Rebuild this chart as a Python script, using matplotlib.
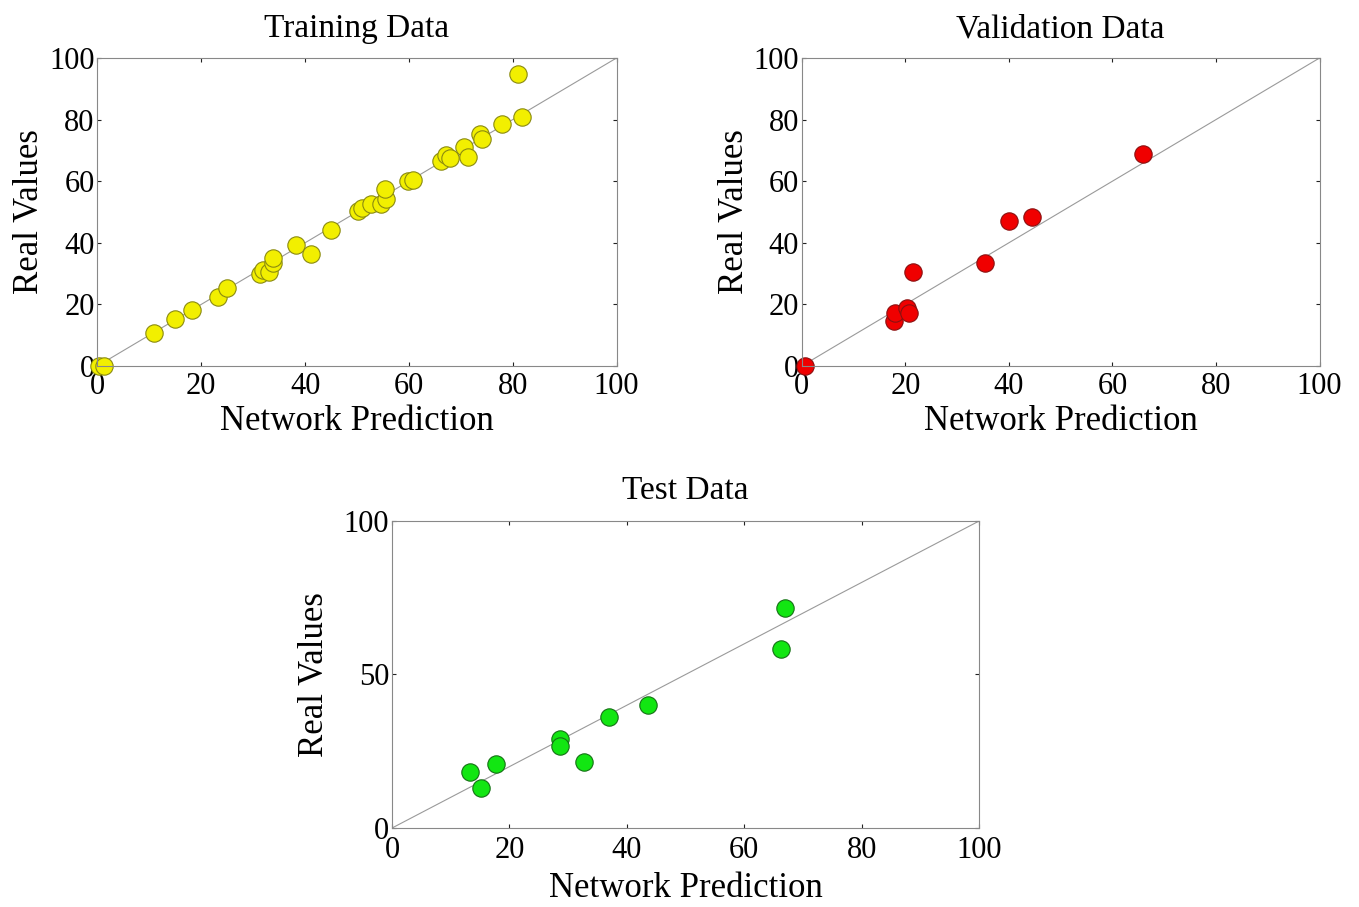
import matplotlib
matplotlib.use('Agg')
import matplotlib.pyplot as plt
import numpy as np

plt.rcParams['font.family'] = ['Liberation Serif', 'DejaVu Serif']

# Training data (network prediction, real value)
train_pred = [0.3, 1.2, 10.8, 14.9, 18.2, 23.3, 25.0, 31.4, 31.8, 33.1, 33.8, 33.8,
              38.2, 41.1, 45.0, 50.2, 51.0, 52.6, 54.6, 55.6, 55.4, 59.8, 60.7,
              66.2, 67.2, 67.9, 70.6, 71.3, 73.6, 74.0, 78.0, 81.8, 81.1]
train_real = [0.0, 0.0, 10.6, 15.4, 18.1, 22.5, 25.4, 30.0, 31.1, 30.6, 33.5, 35.2,
              39.2, 36.5, 44.3, 50.3, 51.4, 52.7, 52.7, 54.1, 57.6, 59.9, 60.3,
              66.7, 68.4, 67.6, 71.1, 68.0, 75.4, 73.8, 78.6, 80.8, 94.8]

# Validation data
val_pred = [0.7, 17.8, 18.0, 20.3, 20.7, 21.4, 35.4, 40.1, 44.4, 65.8]
val_real = [0.0, 14.7, 17.1, 18.7, 17.1, 30.6, 33.5, 47.0, 48.4, 68.9]

# Test data
test_pred = [13.3, 15.2, 17.7, 28.6, 28.6, 32.7, 37.0, 43.6, 66.3, 67.0]
test_real = [18.1, 12.9, 20.7, 29.1, 26.6, 21.6, 36.3, 40.1, 58.2, 71.6]

x_ticks = [0, 20, 40, 60, 80, 100]
y_ticks_top = [0, 20, 40, 60, 80, 100]
y_ticks_test = [0, 50, 100]

fig = plt.figure(figsize=(13.59, 9.07), dpi=100)

ax1 = fig.add_axes([0.0717, 0.5965, 0.382, 0.3396])
ax2 = fig.add_axes([0.590, 0.5965, 0.381, 0.3396])
ax3 = fig.add_axes([0.2885, 0.0871, 0.432, 0.3385])


def panel(ax, px, py, face, edge, title, yt, xpad, xlpad, ylpad, tpad):
    ideal = np.array([0, 100])
    ax.plot(ideal, ideal, color='#9a9a9a', lw=0.8, zorder=1)
    ax.plot(px, py, 'o', ms=12.5, mfc=face, mec=edge, mew=0.8, zorder=2,
            clip_on=False)
    ax.set_xlim(0, 100)
    ax.set_ylim(0, 100)
    ax.set_xticks(x_ticks)
    ax.set_yticks(yt)
    ax.tick_params(direction='in', length=3, width=0.8, labelsize=22,
                   top=True, right=True, color='#222222')
    ax.tick_params(axis='x', pad=xpad)
    ax.tick_params(axis='y', pad=2)
    for s in ax.spines.values():
        s.set_color('#888888')
        s.set_linewidth(0.8)
    ax.set_title(title, fontsize=24, pad=tpad)
    ax.set_xlabel('Network Prediction', fontsize=25, labelpad=xlpad)
    ax.set_ylabel('Real Values', fontsize=25, labelpad=ylpad)


panel(ax1, train_pred, train_real, '#f2ef00', '#8a8a10', 'Training Data',
      y_ticks_top, 4, 3, 2, 15)
panel(ax2, val_pred, val_real, '#f00000', '#8a1010', 'Validation Data',
      y_ticks_top, 4, 3, 2, 15)
panel(ax3, test_pred, test_real, '#12e612', '#157015', 'Test Data',
      y_ticks_test, 6, 5, 9, 16)

fig.savefig('out.png', dpi=100)
